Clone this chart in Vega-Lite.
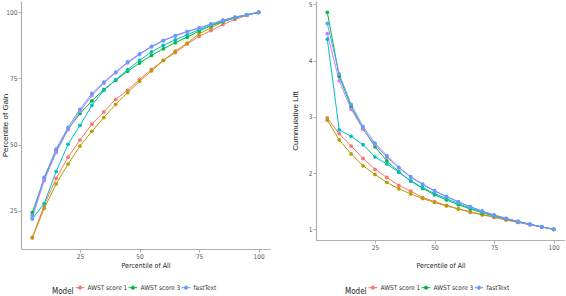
{
  "$schema": "https://vega.github.io/schema/vega-lite/v6.json",
  "padding": {"left": 1, "top": 1, "right": 0, "bottom": 0},
  "spacing": 46,
  "bounds": "flush",
  "background": "white",
  "datasets": {
    "curves": [
      {"model": "AWST score 1", "pct": 5, "gain": 14.9, "lift": 2.98},
      {"model": "AWST score 1", "pct": 10, "gain": 27.0, "lift": 2.7},
      {"model": "AWST score 1", "pct": 15, "gain": 37.2, "lift": 2.48},
      {"model": "AWST score 1", "pct": 20, "gain": 45.2, "lift": 2.26},
      {"model": "AWST score 1", "pct": 25, "gain": 51.7, "lift": 2.068},
      {"model": "AWST score 1", "pct": 30, "gain": 57.7, "lift": 1.923},
      {"model": "AWST score 1", "pct": 35, "gain": 62.3, "lift": 1.78},
      {"model": "AWST score 1", "pct": 40, "gain": 67.1, "lift": 1.678},
      {"model": "AWST score 1", "pct": 45, "gain": 70.5, "lift": 1.567},
      {"model": "AWST score 1", "pct": 50, "gain": 74.6, "lift": 1.492},
      {"model": "AWST score 1", "pct": 55, "gain": 78.4, "lift": 1.425},
      {"model": "AWST score 1", "pct": 60, "gain": 81.8, "lift": 1.363},
      {"model": "AWST score 1", "pct": 65, "gain": 84.7, "lift": 1.303},
      {"model": "AWST score 1", "pct": 70, "gain": 88.0, "lift": 1.257},
      {"model": "AWST score 1", "pct": 75, "gain": 90.9, "lift": 1.212},
      {"model": "AWST score 1", "pct": 80, "gain": 93.1, "lift": 1.164},
      {"model": "AWST score 1", "pct": 85, "gain": 95.4, "lift": 1.122},
      {"model": "AWST score 1", "pct": 90, "gain": 97.3, "lift": 1.081},
      {"model": "AWST score 1", "pct": 95, "gain": 98.8, "lift": 1.04},
      {"model": "AWST score 1", "pct": 100, "gain": 100, "lift": 1},
      {"model": "AWST score 2", "pct": 5, "gain": 14.7, "lift": 2.94},
      {"model": "AWST score 2", "pct": 10, "gain": 25.9, "lift": 2.59},
      {"model": "AWST score 2", "pct": 15, "gain": 35.1, "lift": 2.34},
      {"model": "AWST score 2", "pct": 20, "gain": 42.6, "lift": 2.13},
      {"model": "AWST score 2", "pct": 25, "gain": 49.4, "lift": 1.976},
      {"model": "AWST score 2", "pct": 30, "gain": 55.0, "lift": 1.833},
      {"model": "AWST score 2", "pct": 35, "gain": 60.2, "lift": 1.72},
      {"model": "AWST score 2", "pct": 40, "gain": 65.2, "lift": 1.63},
      {"model": "AWST score 2", "pct": 45, "gain": 69.6, "lift": 1.547},
      {"model": "AWST score 2", "pct": 50, "gain": 73.9, "lift": 1.478},
      {"model": "AWST score 2", "pct": 55, "gain": 77.8, "lift": 1.415},
      {"model": "AWST score 2", "pct": 60, "gain": 81.8, "lift": 1.363},
      {"model": "AWST score 2", "pct": 65, "gain": 85.3, "lift": 1.312},
      {"model": "AWST score 2", "pct": 70, "gain": 88.3, "lift": 1.261},
      {"model": "AWST score 2", "pct": 75, "gain": 91.9, "lift": 1.225},
      {"model": "AWST score 2", "pct": 80, "gain": 94.1, "lift": 1.176},
      {"model": "AWST score 2", "pct": 85, "gain": 96.4, "lift": 1.134},
      {"model": "AWST score 2", "pct": 90, "gain": 97.9, "lift": 1.088},
      {"model": "AWST score 2", "pct": 95, "gain": 99.0, "lift": 1.042},
      {"model": "AWST score 2", "pct": 100, "gain": 100, "lift": 1},
      {"model": "AWST score 3", "pct": 5, "gain": 24.3, "lift": 4.86},
      {"model": "AWST score 3", "pct": 10, "gain": 37.2, "lift": 3.72},
      {"model": "AWST score 3", "pct": 15, "gain": 47.7, "lift": 3.18},
      {"model": "AWST score 3", "pct": 20, "gain": 55.8, "lift": 2.79},
      {"model": "AWST score 3", "pct": 25, "gain": 61.7, "lift": 2.468},
      {"model": "AWST score 3", "pct": 30, "gain": 66.5, "lift": 2.217},
      {"model": "AWST score 3", "pct": 35, "gain": 70.8, "lift": 2.023},
      {"model": "AWST score 3", "pct": 40, "gain": 74.3, "lift": 1.858},
      {"model": "AWST score 3", "pct": 45, "gain": 77.7, "lift": 1.727},
      {"model": "AWST score 3", "pct": 50, "gain": 80.8, "lift": 1.616},
      {"model": "AWST score 3", "pct": 55, "gain": 83.7, "lift": 1.522},
      {"model": "AWST score 3", "pct": 60, "gain": 86.2, "lift": 1.437},
      {"model": "AWST score 3", "pct": 65, "gain": 88.5, "lift": 1.362},
      {"model": "AWST score 3", "pct": 70, "gain": 90.6, "lift": 1.294},
      {"model": "AWST score 3", "pct": 75, "gain": 92.9, "lift": 1.239},
      {"model": "AWST score 3", "pct": 80, "gain": 94.9, "lift": 1.186},
      {"model": "AWST score 3", "pct": 85, "gain": 96.5, "lift": 1.135},
      {"model": "AWST score 3", "pct": 90, "gain": 97.9, "lift": 1.088},
      {"model": "AWST score 3", "pct": 95, "gain": 99.0, "lift": 1.042},
      {"model": "AWST score 3", "pct": 100, "gain": 100, "lift": 1},
      {"model": "Doc2Vec", "pct": 5, "gain": 21.9, "lift": 4.38},
      {"model": "Doc2Vec", "pct": 10, "gain": 27.7, "lift": 2.77},
      {"model": "Doc2Vec", "pct": 15, "gain": 39.8, "lift": 2.653},
      {"model": "Doc2Vec", "pct": 20, "gain": 50.1, "lift": 2.505},
      {"model": "Doc2Vec", "pct": 25, "gain": 57.2, "lift": 2.288},
      {"model": "Doc2Vec", "pct": 30, "gain": 64.8, "lift": 2.16},
      {"model": "Doc2Vec", "pct": 35, "gain": 70.5, "lift": 2.014},
      {"model": "Doc2Vec", "pct": 40, "gain": 74.5, "lift": 1.863},
      {"model": "Doc2Vec", "pct": 45, "gain": 78.3, "lift": 1.74},
      {"model": "Doc2Vec", "pct": 50, "gain": 81.8, "lift": 1.636},
      {"model": "Doc2Vec", "pct": 55, "gain": 85.0, "lift": 1.545},
      {"model": "Doc2Vec", "pct": 60, "gain": 87.5, "lift": 1.458},
      {"model": "Doc2Vec", "pct": 65, "gain": 89.6, "lift": 1.378},
      {"model": "Doc2Vec", "pct": 70, "gain": 91.5, "lift": 1.307},
      {"model": "Doc2Vec", "pct": 75, "gain": 93.4, "lift": 1.245},
      {"model": "Doc2Vec", "pct": 80, "gain": 95.1, "lift": 1.189},
      {"model": "Doc2Vec", "pct": 85, "gain": 96.6, "lift": 1.136},
      {"model": "Doc2Vec", "pct": 90, "gain": 97.9, "lift": 1.088},
      {"model": "Doc2Vec", "pct": 95, "gain": 99.0, "lift": 1.042},
      {"model": "Doc2Vec", "pct": 100, "gain": 100, "lift": 1},
      {"model": "Word2Vec", "pct": 5, "gain": 22.4, "lift": 4.48},
      {"model": "Word2Vec", "pct": 10, "gain": 36.4, "lift": 3.64},
      {"model": "Word2Vec", "pct": 15, "gain": 47.0, "lift": 3.133},
      {"model": "Word2Vec", "pct": 20, "gain": 55.6, "lift": 2.78},
      {"model": "Word2Vec", "pct": 25, "gain": 62.6, "lift": 2.504},
      {"model": "Word2Vec", "pct": 30, "gain": 68.5, "lift": 2.283},
      {"model": "Word2Vec", "pct": 35, "gain": 73.2, "lift": 2.091},
      {"model": "Word2Vec", "pct": 40, "gain": 77.1, "lift": 1.928},
      {"model": "Word2Vec", "pct": 45, "gain": 80.9, "lift": 1.798},
      {"model": "Word2Vec", "pct": 50, "gain": 84.0, "lift": 1.68},
      {"model": "Word2Vec", "pct": 55, "gain": 86.9, "lift": 1.58},
      {"model": "Word2Vec", "pct": 60, "gain": 89.2, "lift": 1.487},
      {"model": "Word2Vec", "pct": 65, "gain": 91.0, "lift": 1.4},
      {"model": "Word2Vec", "pct": 70, "gain": 92.6, "lift": 1.323},
      {"model": "Word2Vec", "pct": 75, "gain": 94.0, "lift": 1.253},
      {"model": "Word2Vec", "pct": 80, "gain": 95.5, "lift": 1.194},
      {"model": "Word2Vec", "pct": 85, "gain": 96.9, "lift": 1.14},
      {"model": "Word2Vec", "pct": 90, "gain": 98.1, "lift": 1.09},
      {"model": "Word2Vec", "pct": 95, "gain": 99.0, "lift": 1.042},
      {"model": "Word2Vec", "pct": 100, "gain": 100, "lift": 1},
      {"model": "fastText", "pct": 5, "gain": 23.3, "lift": 4.66},
      {"model": "fastText", "pct": 10, "gain": 37.6, "lift": 3.76},
      {"model": "fastText", "pct": 15, "gain": 48.3, "lift": 3.22},
      {"model": "fastText", "pct": 20, "gain": 56.5, "lift": 2.825},
      {"model": "fastText", "pct": 25, "gain": 63.3, "lift": 2.532},
      {"model": "fastText", "pct": 30, "gain": 69.3, "lift": 2.31},
      {"model": "fastText", "pct": 35, "gain": 73.6, "lift": 2.103},
      {"model": "fastText", "pct": 40, "gain": 77.4, "lift": 1.935},
      {"model": "fastText", "pct": 45, "gain": 81.2, "lift": 1.804},
      {"model": "fastText", "pct": 50, "gain": 84.3, "lift": 1.686},
      {"model": "fastText", "pct": 55, "gain": 87.1, "lift": 1.584},
      {"model": "fastText", "pct": 60, "gain": 89.4, "lift": 1.49},
      {"model": "fastText", "pct": 65, "gain": 91.2, "lift": 1.403},
      {"model": "fastText", "pct": 70, "gain": 92.8, "lift": 1.326},
      {"model": "fastText", "pct": 75, "gain": 94.1, "lift": 1.255},
      {"model": "fastText", "pct": 80, "gain": 95.6, "lift": 1.195},
      {"model": "fastText", "pct": 85, "gain": 97.0, "lift": 1.141},
      {"model": "fastText", "pct": 90, "gain": 98.2, "lift": 1.091},
      {"model": "fastText", "pct": 95, "gain": 99.1, "lift": 1.043},
      {"model": "fastText", "pct": 100, "gain": 100, "lift": 1}
    ]
  },
  "config": {
    "view": {"stroke": null},
    "font": "Liberation Sans Narrow, DejaVu Sans Condensed, Liberation Sans, sans-serif",
    "axis": {
      "grid": false,
      "domainColor": "#b0b0b0",
      "domainWidth": 1.2,
      "tickColor": "#b0b0b0",
      "tickSize": 3,
      "labelColor": "#555555",
      "labelFontSize": 6.5,
      "labelPadding": 1,
      "titleFontSize": 7,
      "titleFontWeight": "normal",
      "titleColor": "#222222"
    },
    "legend": {
      "orient": "none",
      "direction": "horizontal",
      "titleOrient": "left",
      "titleAnchor": "end",
      "titleBaseline": "middle",
      "titleFontSize": 8,
      "titleFontWeight": "normal",
      "titleColor": "#222222",
      "titlePadding": 1,
      "labelFontSize": 6.5,
      "labelColor": "#333333",
      "labelOffset": 2.5,
      "columnPadding": -9,
      "padding": 0,
      "symbolSize": 81,
      "symbolStrokeWidth": 1,
      "symbolType": "M-1,0H1M-0.36,0A0.36,0.36,0,1,0,0.36,0A0.36,0.36,0,1,0,-0.36,0Z"
    }
  },
  "resolve": {"legend": {"color": "independent"}},
  "hconcat": [
    {
      "width": 249,
      "height": 248,
      "data": {"name": "curves"},
      "encoding": {
        "x": {
          "field": "pct",
          "type": "quantitative",
          "scale": {"domain": [0.25, 104.75], "nice": false, "zero": false},
          "axis": {"values": [25, 50, 75, 100], "title": "Percentile of All", "titleY": 16.5, "titleBaseline": "middle"}
        },
        "y": {
          "field": "gain",
          "type": "quantitative",
          "scale": {"domain": [10.5, 104.26], "nice": false, "zero": false},
          "axis": {"values": [25, 50, 75, 100], "title": "Percentile of Gain", "titleX": -16, "titleY": 124, "titleBaseline": "middle", "titleFont": "Liberation Sans, sans-serif", "titleFontSize": 8}
        },
        "color": {
          "field": "model",
          "type": "nominal",
          "scale": {
            "domain": ["AWST score 1", "AWST score 2", "AWST score 3", "Doc2Vec", "fastText", "Word2Vec"],
            "range": ["#F8766D", "#B79F00", "#00BA38", "#00BFC4", "#619CFF", "#C77CFF"]
          },
          "legend": {
            "title": "Model",
            "values": ["AWST score 1", "AWST score 3", "fastText"],
            "legendX": 31,
            "legendY": 281.5,
            "encode": {"symbols": {"update": {"stroke": {"scale": "color", "field": "value"}}}}
          }
        }
      },
      "layer": [
        {"mark": {"type": "line", "strokeWidth": 1}, "encoding": {}},
        {"mark": {"type": "point", "filled": true, "size": 14, "opacity": 1}, "encoding": {}}
      ]
    },
    {
      "width": 249,
      "height": 239,
      "data": {"name": "curves"},
      "encoding": {
        "x": {
          "field": "pct",
          "type": "quantitative",
          "scale": {"domain": [0.25, 104.75], "nice": false, "zero": false},
          "axis": {"values": [25, 50, 75, 100], "title": "Percentile of All", "titleY": 25, "titleBaseline": "middle"}
        },
        "y": {
          "field": "lift",
          "type": "quantitative",
          "scale": {"domain": [0.81, 5.06], "nice": false, "zero": false},
          "axis": {"values": [1, 2, 3, 4, 5], "title": "Cummulative Lift", "titleX": -21, "titleY": 119.5, "titleBaseline": "middle", "titleFont": "Liberation Sans, sans-serif", "titleFontSize": 8}
        },
        "color": {
          "field": "model",
          "type": "nominal",
          "legend": {
            "title": "Model",
            "values": ["AWST score 1", "AWST score 3", "fastText"],
            "legendX": 29,
            "legendY": 281.5,
            "encode": {"symbols": {"update": {"stroke": {"scale": "color", "field": "value"}}}}
          }
        }
      },
      "layer": [
        {"mark": {"type": "line", "strokeWidth": 1}, "encoding": {}},
        {"mark": {"type": "point", "filled": true, "size": 14, "opacity": 1}, "encoding": {}}
      ]
    }
  ]
}
